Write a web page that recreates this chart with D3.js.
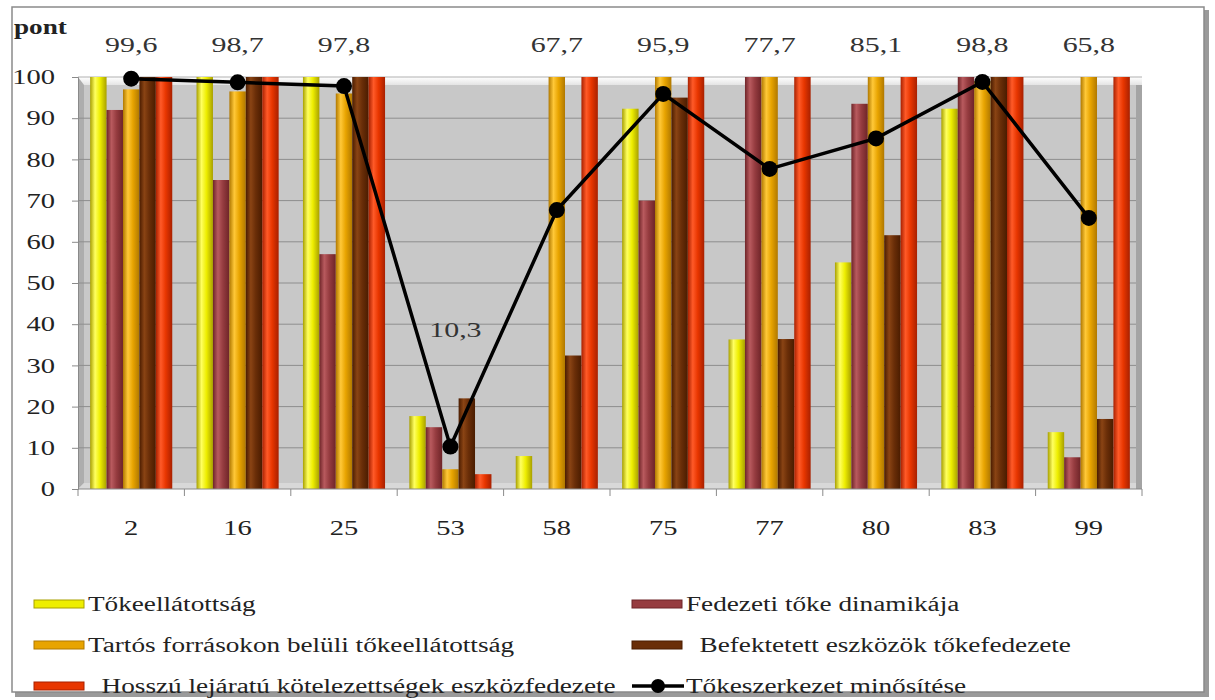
<!DOCTYPE html>
<html>
<head>
<meta charset="utf-8">
<script src="https://cdn.jsdelivr.net/npm/d3@7"></script>
<style>
  body { margin: 0; background: #fff; }
  text { font-family: "Liberation Serif", "Times New Roman", "DejaVu Serif", serif; }
</style>
</head>
<body>
<svg width="1215" height="700"></svg>
<script>
// Chart data
const categories = ["2", "16", "25", "53", "58", "75", "77", "80", "83", "99"];
const seriesNames = [
  "Tőkeellátottság",
  "Fedezeti tőke dinamikája",
  "Tartós forrásokon belüli tőkeellátottság",
  "Befektetett eszközök tőkefedezete",
  "Hosszú lejáratú kötelezettségek eszközfedezete"
];
const tokeellatottsag = [100, 100, 100, 17.7, 8, 92.3, 36.3, 55, 92.3, 13.8];
const fedezetiToke    = [92, 75, 57, 15, 0, 70, 100, 93.5, 100, 7.7];
const tartosForrasok  = [97, 96.5, 96, 4.8, 100, 100, 100, 100, 99, 100];
const befektetett     = [100, 100, 100, 22, 32.4, 95, 36.4, 61.6, 100, 17];
const hosszuLejaratu  = [100, 100, 100, 3.6, 100, 100, 100, 100, 100, 100];
const lineName = "Tőkeszerkezet minősítése";
const minosites = [99.6, 98.7, 97.8, 10.3, 67.7, 95.9, 77.7, 85.1, 98.8, 65.8];
const yTicks = [0, 10, 20, 30, 40, 50, 60, 70, 80, 90, 100];

const seriesValues = [tokeellatottsag, fedezetiToke, tartosForrasok, befektetett, hosszuLejaratu];

// Colours per series: [edge, highlight, body]
const barColors = [
  ["#a8a000", "#ffff60", "#eeee00"],
  ["#6e2428", "#b85a5e", "#963c40"],
  ["#b07800", "#ffc838", "#e8a400"],
  ["#4a1c00", "#8a4414", "#6a2e08"],
  ["#a82000", "#ff5a28", "#e83600"]
];

const serif = "Liberation Serif, Times New Roman, DejaVu Serif, serif";
const textStretch = 1.36;

// the original picture has its text widened, so scale text horizontally
function stretch(sel) {
  sel.each(function () {
    const t = d3.select(this);
    const tx = +t.attr("x") || 0, ty = +t.attr("y") || 0;
    t.attr("x", 0).attr("y", 0)
      .attr("transform", `translate(${tx},${ty}) scale(${textStretch},1)`);
  });
}

const svg = d3.select("svg");
const defs = svg.append("defs");

// Outer frame with shadow
svg.append("rect")
  .attr("x", 15).attr("y", 10).attr("width", 1194).attr("height", 687)
  .attr("fill", "#9a9a9a");
svg.append("rect")
  .attr("x", 12).attr("y", 7).attr("width", 1192).attr("height", 685)
  .attr("fill", "#fff").attr("stroke", "#8a8a8a").attr("stroke-width", 1.5);

// Plot geometry
const plotLeft = 78, plotRight = 1142, plotTop = 77, plotBottom = 489, depth = 6;

const x = d3.scaleBand().domain(categories).range([plotLeft, plotRight]).padding(0);
const xSub = d3.scaleBand().domain(d3.range(seriesNames.length))
  .range([0, x.bandwidth()]).paddingInner(0).paddingOuter(0.74);
const y = d3.scaleLinear().domain([0, 100]).range([plotBottom, plotTop]);

// 3D-looking walls
const wallGrad = defs.append("linearGradient").attr("id", "wallTop")
  .attr("x1", 0).attr("y1", 0).attr("x2", 0).attr("y2", 1);
wallGrad.append("stop").attr("offset", "0%").attr("stop-color", "#ffffff");
wallGrad.append("stop").attr("offset", "100%").attr("stop-color", "#e4e4e4");

svg.append("rect")
  .attr("x", plotLeft).attr("y", plotTop).attr("width", plotRight - plotLeft).attr("height", plotBottom - plotTop)
  .attr("fill", "#c8c8c8");
svg.append("rect")
  .attr("x", plotLeft).attr("y", plotTop).attr("width", plotRight - plotLeft).attr("height", depth + 2)
  .attr("fill", "url(#wallTop)");
svg.append("polygon")
  .attr("points", `${plotLeft},${plotTop} ${plotLeft + depth},${plotTop + depth + 2} ${plotLeft + depth},${plotBottom - depth} ${plotLeft},${plotBottom}`)
  .attr("fill", "#adadad");
svg.append("polygon")
  .attr("points", `${plotLeft},${plotBottom} ${plotLeft + depth},${plotBottom - depth} ${plotRight},${plotBottom - depth} ${plotRight},${plotBottom}`)
  .attr("fill", "#d8d8d8");
svg.append("rect")
  .attr("x", plotRight - 6).attr("y", plotTop + depth + 2).attr("width", 6).attr("height", plotBottom - plotTop - depth - 2)
  .attr("fill", "#a4a4a4");

// Gridlines
svg.append("g")
  .selectAll("line")
  .data(yTicks.filter(t => t > 0 && t < 100))
  .enter()
  .append("line")
  .attr("x1", plotLeft).attr("x2", plotRight - 6)
  .attr("y1", d => y(d)).attr("y2", d => y(d))
  .attr("stroke", "#8e8e8e").attr("stroke-width", 1);
svg.append("line")
  .attr("x1", plotLeft).attr("x2", plotRight)
  .attr("y1", y(100)).attr("y2", y(100))
  .attr("stroke", "#b0b0b0");

// Bar gradients
barColors.forEach((c, i) => {
  const g = defs.append("linearGradient").attr("id", "bar" + i)
    .attr("x1", 0).attr("y1", 0).attr("x2", 1).attr("y2", 0);
  g.append("stop").attr("offset", "0%").attr("stop-color", c[0]);
  g.append("stop").attr("offset", "30%").attr("stop-color", c[1]);
  g.append("stop").attr("offset", "60%").attr("stop-color", c[2]);
  g.append("stop").attr("offset", "100%").attr("stop-color", c[0]);
});

// Bars
const barData = [];
categories.forEach((cat, ci) => {
  seriesValues.forEach((vals, si) => {
    barData.push({ cat: cat, s: si, v: vals[ci] });
  });
});

svg.append("g")
  .selectAll("rect")
  .data(barData.filter(d => d.v > 0))
  .enter()
  .append("rect")
  .attr("x", d => x(d.cat) + xSub(d.s))
  .attr("y", d => y(d.v))
  .attr("width", xSub.bandwidth())
  .attr("height", d => y(0) - y(d.v))
  .attr("fill", d => `url(#bar${d.s})`);

// X axis
const xAxis = svg.append("g")
  .attr("transform", `translate(0,${plotBottom})`);
xAxis.append("line")
  .attr("x1", plotLeft).attr("x2", plotRight).attr("stroke", "#8a8a8a");
xAxis.selectAll("line.tick")
  .data(categories.concat(["end"]))
  .enter()
  .append("line")
  .attr("class", "tick")
  .attr("x1", (d, i) => plotLeft + i * x.step()).attr("x2", (d, i) => plotLeft + i * x.step())
  .attr("y1", 0).attr("y2", 7)
  .attr("stroke", "#8a8a8a");
xAxis.selectAll("text")
  .data(categories)
  .enter()
  .append("text")
  .attr("x", d => x(d) + x.bandwidth() / 2)
  .attr("y", 46)
  .attr("text-anchor", "middle")
  .attr("font-size", 21)
  .attr("fill", "#222")
  .text(d => d)
  .call(stretch);

// Y axis
const yAxis = d3.axisLeft(y).tickValues(yTicks).tickSize(6).tickPadding(17);
svg.append("g")
  .attr("transform", `translate(${plotLeft},0)`)
  .call(yAxis)
  .attr("font-family", serif)
  .call(g => g.select(".domain").attr("stroke", "#8a8a8a"))
  .call(g => g.selectAll(".tick line").attr("stroke", "#8a8a8a"))
  .call(g => g.selectAll(".tick text")
    .attr("font-family", serif)
    .attr("font-size", 21).attr("fill", "#222")
    .call(stretch));

svg.append("text")
  .attr("x", 14).attr("y", 34)
  .attr("font-size", 20).attr("font-weight", "bold").attr("fill", "#222")
  .text("pont")
  .call(stretch);

// Line series
const cx = d => x(d) + x.bandwidth() / 2;
const line = d3.line()
  .x((d, i) => cx(categories[i]))
  .y(d => y(d));

svg.append("path")
  .datum(minosites)
  .attr("d", line)
  .attr("fill", "none")
  .attr("stroke", "#000")
  .attr("stroke-width", 3.5);

svg.append("g")
  .selectAll("circle")
  .data(minosites)
  .enter()
  .append("circle")
  .attr("cx", (d, i) => cx(categories[i]))
  .attr("cy", d => y(d))
  .attr("r", 8)
  .attr("fill", "#000");

// Data labels (above the plot, low values above their point)
svg.append("g")
  .selectAll("text")
  .data(minosites)
  .enter()
  .append("text")
  .attr("x", (d, i) => cx(categories[i]) + (d < 50 ? 5 : 0))
  .attr("y", d => d < 50 ? y(d) - 110 : 52)
  .attr("text-anchor", "middle")
  .attr("font-size", 22)
  .attr("fill", "#333")
  .text(d => d3.format(".1f")(d).replace(".", ","))
  .call(stretch);

// Legend
const legendItems = [
  { name: seriesNames[0], s: 0, col: 0, row: 0, pad: "" },
  { name: seriesNames[1], s: 1, col: 1, row: 0, pad: "" },
  { name: seriesNames[2], s: 2, col: 0, row: 1, pad: "" },
  { name: seriesNames[3], s: 3, col: 1, row: 1, pad: "\u00a0\u00a0" },
  { name: seriesNames[4], s: 4, col: 0, row: 2, pad: "\u00a0\u00a0" },
  { name: lineName, s: -1, col: 1, row: 2, pad: "" }
];
const colX = [34, 632];
const rowY = [604, 645, 686];

const legend = svg.append("g");
legendItems.forEach(item => {
  const gx = colX[item.col], gy = rowY[item.row];
  if (item.s >= 0) {
    legend.append("rect")
      .attr("x", gx).attr("y", gy - 4).attr("width", 50).attr("height", 8)
      .attr("fill", barColors[item.s][2])
      .attr("stroke", barColors[item.s][0]).attr("stroke-width", 1);
  } else {
    legend.append("line")
      .attr("x1", gx).attr("x2", gx + 52).attr("y1", gy).attr("y2", gy)
      .attr("stroke", "#000").attr("stroke-width", 3.5);
    legend.append("circle")
      .attr("cx", gx + 26).attr("cy", gy).attr("r", 7).attr("fill", "#000");
  }
  legend.append("text")
    .attr("x", gx + 54).attr("y", gy + 7)
    .attr("font-size", 20).attr("fill", "#222")
    .text(item.pad + item.name)
    .call(stretch);
});
</script>
</body>
</html>
